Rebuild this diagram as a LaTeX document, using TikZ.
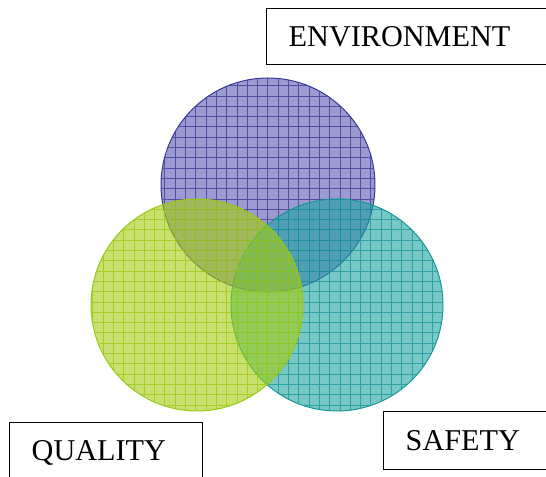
\documentclass[tikz,border=0pt]{standalone}
\usepackage{fontspec}
\setmainfont{Liberation Serif}
\usepackage{tikz}

\definecolor{envFill}{RGB}{88,88,180}
\definecolor{envLine}{RGB}{55,55,150}
\definecolor{qualFill}{RGB}{163,205,13}
\definecolor{qualLine}{RGB}{150,200,20}
\definecolor{safeFill}{RGB}{30,163,163}
\definecolor{safeLine}{RGB}{20,150,150}

\begin{document}
\begin{tikzpicture}[
    x=0.025cm, y=0.025cm,
    ring/.style={line width=0.7pt},
    blob/.style={opacity=0.6},
    gridlines/.style={step=10.3, line width=0.45pt, opacity=0.75},
    labelbox/.style={rectangle, draw=black, line width=1pt, anchor=north west, align=left, inner xsep=0.55cm, font=\fontsize{21.5pt}{26pt}\selectfont}
]

\useasboundingbox (0,0) rectangle (546,477);
\clip (0,0) rectangle (546,477);

% Circle centres
\coordinate (envC) at (268,292);
\coordinate (safeC) at (337,172);
\coordinate (qualC) at (197,172);

% Environment circle
\fill[blob, envFill] (envC) circle (107);
\begin{scope}
    \clip (envC) circle (107);
    \draw[gridlines, envLine] (150,170) grid (390,410);
\end{scope}
\draw[ring, envLine] (envC) circle (107);

% Safety circle
\fill[blob, safeFill] (safeC) circle (106);
\begin{scope}
    \clip (safeC) circle (106);
    \draw[gridlines, safeLine] (220,50) grid (460,290);
\end{scope}
\draw[ring, safeLine] (safeC) circle (106);

% Quality circle
\fill[blob, qualFill] (qualC) circle (106);
\begin{scope}
    \clip (qualC) circle (106);
    \draw[gridlines, qualLine] (80,50) grid (320,290);
\end{scope}
\draw[ring, qualLine] (qualC) circle (106);

% Labels
\node[labelbox, text width=6.4cm, minimum height=1.4cm] (environment) at (266,469) {ENVIRONMENT};
\node[labelbox, text width=3.8cm, minimum height=1.45cm] (safety) at (383,66) {SAFETY};
\node[labelbox, text width=3.725cm, minimum height=1.5cm] (quality) at (9,55) {QUALITY};

\end{tikzpicture}
\end{document}
